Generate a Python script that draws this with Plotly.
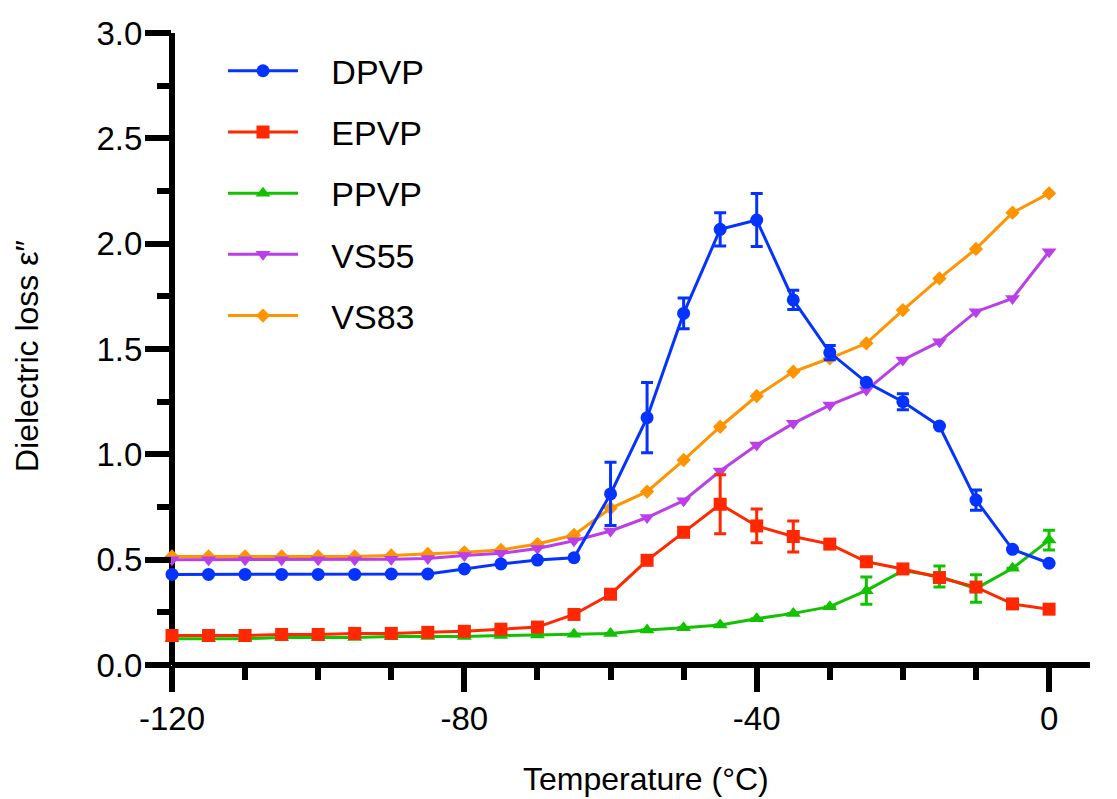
import plotly.graph_objects as go

temps = [-120, -115, -110, -105, -100, -95, -90, -85, -80, -75, -70, -65, -60,
         -55, -50, -45, -40, -35, -30, -25, -20, -15, -10, -5, 0]

dpvp = [0.43, 0.43, 0.43, 0.43, 0.43, 0.43, 0.432, 0.432, 0.456, 0.48, 0.498, 0.509, 0.812,
        1.174, 1.669, 2.068, 2.112, 1.733, 1.483, 1.342, 1.25, 1.134, 0.783, 0.549, 0.483]
dpvp_err = [None, None, None, None, None, None, None, None, None, None, None, None, 0.15,
            0.167, 0.073, 0.079, 0.126, 0.046, 0.034, None, 0.038, None, 0.048, None, None]

epvp = [0.14, 0.14, 0.14, 0.145, 0.145, 0.15, 0.15, 0.155, 0.16, 0.17, 0.18, 0.24, 0.336,
        0.497, 0.63, 0.763, 0.66, 0.61, 0.574, 0.49, 0.456, 0.415, 0.37, 0.29, 0.265]
epvp_err = [None, None, None, None, None, None, None, None, None, None, None, None, None,
            None, None, 0.14, 0.08, 0.074, None, None, None, None, None, None, None]

ppvp = [0.125, 0.125, 0.125, 0.13, 0.13, 0.13, 0.135, 0.135, 0.135, 0.14, 0.142, 0.146, 0.15,
        0.166, 0.177, 0.19, 0.22, 0.245, 0.277, 0.353, 0.448, 0.42, 0.363, 0.459, 0.593]
ppvp_err = [None, None, None, None, None, None, None, None, None, None, None, None, None,
            None, None, None, None, None, None, 0.065, None, 0.05, 0.065, None, 0.047]

vs55 = [0.50, 0.50, 0.50, 0.50, 0.50, 0.50, 0.502, 0.505, 0.52, 0.53, 0.553, 0.59, 0.636,
        0.70, 0.78, 0.921, 1.044, 1.147, 1.234, 1.305, 1.448, 1.535, 1.677, 1.74, 1.962]

vs83 = [0.515, 0.515, 0.515, 0.515, 0.515, 0.515, 0.52, 0.527, 0.535, 0.546, 0.574, 0.617, 0.744,
        0.823, 0.973, 1.131, 1.277, 1.392, 1.456, 1.527, 1.685, 1.835, 1.975, 2.147, 2.239]

x_tickvals = [-120, -80, -40, 0]
x_ticktext = ["-120", "-80", "-40", "0"]
y_tickvals = [0.0, 0.5, 1.0, 1.5, 2.0, 2.5, 3.0]
y_ticktext = ["0.0", "0.5", "1.0", "1.5", "2.0", "2.5", "3.0"]

FONT = "Liberation Sans, Arial, sans-serif"
PAD = "\u00a0\u00a0\u00a0"

series = [
    # drawn bottom to top; legend order given by rank
    ("VS83", vs83, None, "#FF9300", "diamond", 11, 5),
    ("VS55", vs55, None, "#BB3FE8", "triangle-down", 13, 4),
    ("PPVP", ppvp, ppvp_err, "#12C200", "triangle-up", 13, 3),
    ("EPVP", epvp, epvp_err, "#FF2800", "square", 13, 2),
    ("DPVP", dpvp, dpvp_err, "#0433FF", "circle", 13, 1),
]

fig = go.Figure()
for name, ys, err, color, sym, size, rank in series:
    kw = {}
    if err is not None:
        kw["error_y"] = dict(type="data", array=err, visible=True, color=color,
                             thickness=3, width=6)
    fig.add_trace(go.Scatter(
        x=temps, y=ys, name=PAD + name, mode="lines+markers",
        line=dict(color=color, width=3),
        marker=dict(color=color, symbol=sym, size=size),
        cliponaxis=False, legendgroup=name, legendrank=rank, **kw))

axis_common = dict(
    showgrid=False, zeroline=False, showline=False,
    ticks="outside", tickcolor="black", tickwidth=6, ticklen=26,
    tickfont=dict(family=FONT, size=33, color="black"),
)

fig.update_xaxes(
    range=[-120, 5.6], tickvals=x_tickvals, ticktext=x_ticktext,
    minor=dict(dtick=10, tick0=0, ticks="outside", ticklen=14, tickwidth=6, tickcolor="black"),
    ticklabelstandoff=-2,
    **axis_common)
fig.update_yaxes(
    range=[0, 3.0], tickvals=y_tickvals, ticktext=y_ticktext,
    minor=dict(dtick=0.25, tick0=0, ticks="outside", ticklen=14, tickwidth=6, tickcolor="black"),
    ticklabelstandoff=-4,
    **axis_common)

# axis lines (frame decoration, in paper coordinates)
fig.add_shape(type="line", xref="paper", yref="paper", x0=0, x1=1, y0=0, y1=0,
              line=dict(color="black", width=6), layer="below")
fig.add_shape(type="line", xref="paper", yref="paper", x0=0, x1=0, y0=0, y1=1,
              line=dict(color="black", width=6), layer="below")

fig.add_annotation(text="Temperature (°C)", xref="paper", yref="paper",
                   x=(646 - 172) / 918, y=-(779 - 665) / 632, xanchor="center", yanchor="middle",
                   showarrow=False, font=dict(family=FONT, size=32, color="black"))
fig.add_annotation(text="Dielectric loss ε″", xref="paper", yref="paper",
                   x=-(172 - 27) / 918, y=(665 - 356) / 632, xanchor="center", yanchor="middle",
                   textangle=-90, showarrow=False, font=dict(family=FONT, size=32, color="black"))

fig.update_layout(
    width=1117, height=799,
    margin=dict(l=172, r=27, t=33, b=134),
    plot_bgcolor="white", paper_bgcolor="white",
    legend=dict(x=(223 - 172) / 918, y=0.9855, xanchor="left", yanchor="top",
                traceorder="grouped", tracegroupgap=14,
                font=dict(family=FONT, size=34, color="black"),
                itemwidth=70, bgcolor="rgba(0,0,0,0)"),
)

fig.write_html("out.html")
